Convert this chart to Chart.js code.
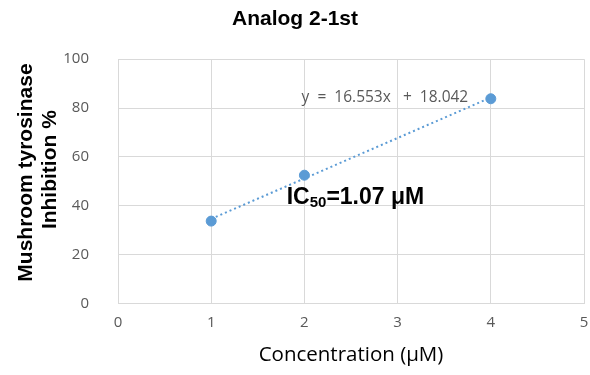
<!DOCTYPE html>
<html>
<head>
<meta charset="utf-8">
<script src="https://cdn.jsdelivr.net/npm/chart.js@4"></script>
<style>
  html, body { margin: 0; padding: 0; background: #fff; }
  #wrap { width: 590px; height: 375px; }
</style>
</head>
<body>
<div id="wrap"><canvas id="chartAnalog"></canvas></div>
<script>
"use strict";
// values
var concentrations = [1, 2, 4];
var inhibitions = [33.7, 52.5, 83.8];
var trendX = [1, 4];
var trendY = [34.6, 84.3];
var xTicks = [0, 1, 2, 3, 4, 5];
var yTicks = [0, 20, 40, 60, 80, 100];
var equationText = "y  =  16.553x   +  18.042";
var icLabel = "IC";
var icSub = "50";
var icValue = "=1.07 μM";

var blue = '#5b9bd5';
var gridColor = '#d9d9d9';
var tickColor = '#595959';

function toPoints(xs, ys) {
    return xs.map(function (x, i) { return { x: x, y: ys[i] }; });
}

// draws the equation and the IC50 note at data positions
var notesPlugin = {
    id: 'notes',
    afterDatasetsDraw: function (chart) {
        var ctx = chart.ctx;
        var xs = chart.scales.x, ys = chart.scales.y;
        ctx.save();
        ctx.fillStyle = tickColor;
        ctx.font = '15.5px "Open Sans", sans-serif';
        ctx.textBaseline = 'middle';
        ctx.textAlign = 'left';
        ctx.fillText(equationText, xs.getPixelForValue(1.97), ys.getPixelForValue(84.3));

        var x0 = xs.getPixelForValue(1.81), y0 = ys.getPixelForValue(43.3);
        ctx.fillStyle = '#000';
        ctx.font = 'bold 23px "Liberation Sans", Arial, sans-serif';
        ctx.fillText(icLabel, x0, y0);
        var w = ctx.measureText(icLabel).width;
        ctx.font = 'bold 15px "Liberation Sans", Arial, sans-serif';
        ctx.fillText(icSub, x0 + w, y0 + 5);
        var w2 = ctx.measureText(icSub).width;
        ctx.font = 'bold 23px "Liberation Sans", Arial, sans-serif';
        ctx.fillText(icValue, x0 + w + w2, y0);
        ctx.restore();
    }
};

const context = document.getElementById('chartAnalog');
new Chart(context, {
    type: 'scatter',
    data: {
        datasets: [{
            label: 'Trend',
            data: toPoints(trendX, trendY),
            showLine: true,
            borderColor: blue,
            borderWidth: 2,
            borderDash: [2, 3],
            pointRadius: 0,
            fill: false
        }, {
            label: 'Inhibition',
            data: toPoints(concentrations, inhibitions),
            backgroundColor: blue,
            borderColor: blue,
            pointRadius: 5,
            showLine: false
        }]
    },
    options: {
        responsive: true,
        maintainAspectRatio: false,
        animation: false,
        layout: { padding: { left: 0, right: 0, top: 0, bottom: 8 } },
        plugins: {
            legend: { display: false },
            tooltip: { enabled: false },
            title: {
                display: true,
                text: 'Analog 2-1st',
                color: '#000',
                font: { family: '"Liberation Sans", Arial, sans-serif', size: 21, weight: 'bold' },
                padding: { top: 7, bottom: 27 }
            }
        },
        scales: {
            x: {
                type: 'linear',
                min: 0,
                max: 5,
                afterBuildTicks: function (scale) {
                    scale.ticks = xTicks.map(function (v) { return { value: v }; });
                },
                afterFit: function (scale) { scale.paddingRight = 6; },
                grid: { color: gridColor, drawTicks: false, lineWidth: 1 },
                border: { color: gridColor },
                ticks: {
                    color: tickColor,
                    padding: 10,
                    font: { family: '"Open Sans", sans-serif', size: 15 }
                },
                title: {
                    display: true,
                    text: 'Concentration (μM)',
                    color: '#000',
                    padding: { top: 1, bottom: 0 },
                    font: { family: '"Open Sans", sans-serif', size: 20.5 }
                }
            },
            y: {
                type: 'linear',
                min: 0,
                max: 100,
                afterBuildTicks: function (scale) {
                    scale.ticks = yTicks.map(function (v) { return { value: v }; });
                },
                afterFit: function (scale) { scale.width = 118; },
                grid: { color: gridColor, drawTicks: false, lineWidth: 1 },
                border: { color: gridColor },
                ticks: {
                    color: tickColor,
                    padding: 29,
                    font: { family: '"Open Sans", sans-serif', size: 15 }
                },
                title: {
                    display: true,
                    // leading spaces nudge the rotated lines up a little
                    text: ['   Mushroom tyrosinase', '    Inhibition %'],
                    color: '#000',
                    padding: { top: 14, bottom: 0 },
                    font: { family: '"Liberation Sans", Arial, sans-serif', size: 21, weight: 'bold', lineHeight: 1.15 }
                }
            }
        }
    },
    plugins: [notesPlugin]
});
</script>
</body>
</html>
